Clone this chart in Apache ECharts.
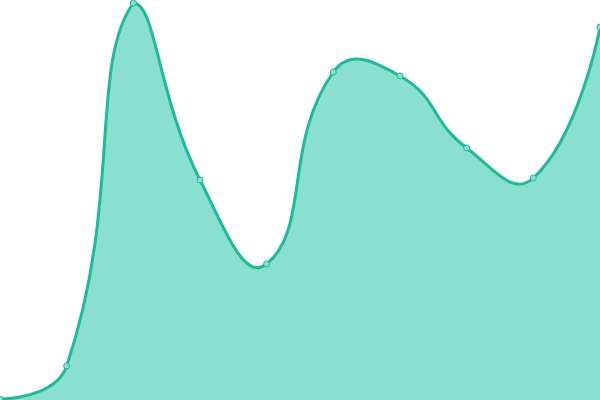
<!DOCTYPE html>
<html>
<head>
<meta charset="utf-8">
<script src="https://cdn.jsdelivr.net/npm/echarts@6/dist/echarts.min.js"></script>
<style>
html, body { margin: 0; padding: 0; background: #fff; }
#chart { width: 600px; height: 400px; }
</style>
</head>
<body>
<div id="chart"></div>
<script>
var categories = ['1', '2', '3', '4', '5', '6', '7', '8', '9', '10'];
var values = [1, 34, 397, 220, 136, 328, 324, 252, 222, 373];

var lineColor = '#1dbb99';
var fillColor = '#8ae0cf';
var smooth = 0.5;

var myChart = echarts.init(document.getElementById('chart'));

// spline like the older line smoothing (control points kept inside the points' box)
function splinePath(pts) {
    var minX = Infinity, minY = Infinity, maxX = -Infinity, maxY = -Infinity;
    pts.forEach(function (p) {
        minX = Math.min(minX, p[0]); maxX = Math.max(maxX, p[0]);
        minY = Math.min(minY, p[1]); maxY = Math.max(maxY, p[1]);
    });
    function clamp(c) {
        return [Math.min(maxX, Math.max(minX, c[0])), Math.min(maxY, Math.max(minY, c[1]))];
    }
    var d = 'M' + pts[0][0] + ' ' + pts[0][1];
    var cp0 = pts[0].slice();
    for (var i = 1; i < pts.length; i++) {
        var p = pts[i], prev = pts[i - 1], next = pts[i + 1];
        var cp1, nextCp0 = null;
        if (!next) {
            cp1 = p.slice();
        } else {
            var vx = next[0] - prev[0], vy = next[1] - prev[1];
            var lp = Math.hypot(p[0] - prev[0], p[1] - prev[1]);
            var ln = Math.hypot(next[0] - p[0], next[1] - p[1]);
            var r = ln / (ln + lp);
            cp1 = [p[0] - vx * smooth * (1 - r), p[1] - vy * smooth * (1 - r)];
            nextCp0 = [p[0] + vx * smooth * r, p[1] + vy * smooth * r];
        }
        cp0 = clamp(cp0);
        cp1 = clamp(cp1);
        d += ' C' + cp0[0] + ' ' + cp0[1] + ' ' + cp1[0] + ' ' + cp1[1] + ' ' + p[0] + ' ' + p[1];
        if (nextCp0) cp0 = nextCp0;
    }
    return d;
}

function renderCurve(params, api) {
    if (params.dataIndex !== 0) return;
    var pts = values.map(function (v, i) { return api.coord([i, v]); });
    var base = api.coord([0, 0])[1];
    var line = splinePath(pts);
    var last = pts[pts.length - 1];
    var area = line + ' L' + last[0] + ' ' + base + ' L' + pts[0][0] + ' ' + base + ' Z';
    return {
        type: 'group',
        children: [
            {
                type: 'path',
                shape: { pathData: area },
                style: { fill: fillColor, stroke: null }
            },
            {
                type: 'path',
                shape: { pathData: line },
                style: { fill: null, stroke: lineColor, lineWidth: 3 }
            }
        ]
    };
}

var option = {
    animation: false,
    grid: {
        left: 0,
        right: 0,
        top: 0,
        bottom: 0
    },
    xAxis: {
        type: 'category',
        boundaryGap: false,
        data: categories,
        show: false
    },
    yAxis: {
        type: 'value',
        min: 0,
        max: 400,
        show: false
    },
    series: [
        {
            type: 'custom',
            renderItem: renderCurve,
            data: values,
            clip: false,
            z: 1
        },
        {
            type: 'line',
            data: values,
            symbol: 'circle',
            symbolSize: 6,
            lineStyle: { opacity: 0 },
            itemStyle: {
                color: fillColor,
                borderColor: lineColor,
                borderWidth: 1
            },
            z: 2
        }
    ]
};

myChart.setOption(option);
</script>
</body>
</html>
